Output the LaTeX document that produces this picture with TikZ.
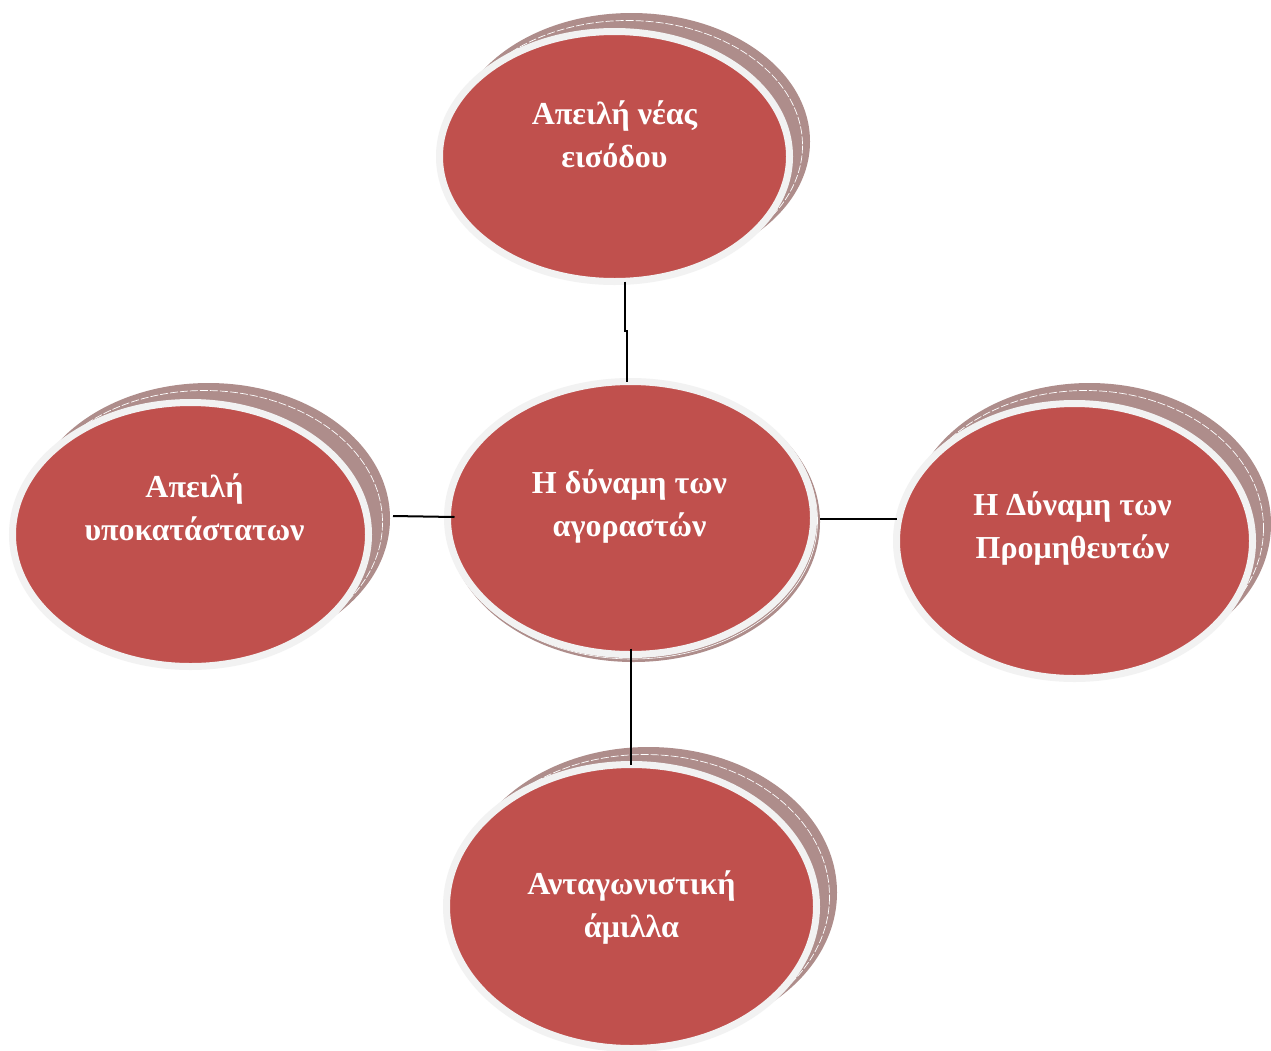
\documentclass[tikz,border=0pt]{standalone}
\usepackage{fontspec}
\setmainfont{Liberation Serif}
\usetikzlibrary{shapes.geometric,calc}

\definecolor{discred}{HTML}{C0504D}
\definecolor{discring}{HTML}{F2F2F2}
\definecolor{discshade}{HTML}{AE8D8B}

\tikzset{
  disc/.style={ellipse, fill=discred, draw=discring, line width=7pt,
               inner sep=0pt, outer sep=0pt},
  shade/.style={fill=discshade},
  shadeline/.style={fill=discshade, draw=white, line width=0.7pt,
                    dash pattern=on 8pt off 2pt},
  label/.style={text=white, font=\bfseries\fontsize{32}{43}\selectfont,
                align=center, anchor=base, inner sep=0pt},
  conn/.style={draw=black, line width=2pt},
}

\begin{document}
\begin{tikzpicture}[x=1pt, y=-1pt]
  \useasboundingbox[fill=white] (0,0) rectangle (1271,1050);

  % stacked back layers of the outer discs
  \fill[shade] (631.5,141.5) ellipse [x radius=178.5, y radius=128.5];
  \filldraw[shadeline] (627.5,145.5) ellipse [x radius=175, y radius=125];
  \fill[shade] (208.5,518.5) ellipse [x radius=181.5, y radius=135.5];
  \filldraw[shadeline] (204.5,522.5) ellipse [x radius=178, y radius=132];
  \fill[shade] (1089.5,524) ellipse [x radius=181.5, y radius=141];
  \filldraw[shadeline] (1085.5,528) ellipse [x radius=178, y radius=137.5];
  \fill[shade] (648.5,892.5) ellipse [x radius=188.5, y radius=145.5];
  \filldraw[shadeline] (644.5,896.5) ellipse [x radius=185, y radius=142];
  % thin rim under the central disc
  \fill[shade] (633.5,522) ellipse [x radius=186.5, y radius=140];
  \draw[white, line width=0.6pt] (632.5,520.5) ellipse [x radius=185, y radius=138.5];

  % discs
  \node[disc, minimum width=350pt, minimum height=250pt] (entry) at (614.5,156.5) {};
  \node[disc, minimum width=366pt, minimum height=273pt] (buyers) at (630.5,518) {};
  \node[disc, minimum width=356pt, minimum height=264pt] (subst) at (190.5,534.5) {};
  \node[disc, minimum width=356pt, minimum height=275pt] (suppl) at (1074.5,541) {};
  \node[disc, minimum width=370pt, minimum height=284pt] (rivalry) at (631.5,906.5) {};

  % labels (anchored at the baseline of the second line)
  \node[label] (entryT) at (614.5,167) {Απειλή νέας\\εισόδου};
  \node[label] (buyersT) at (629.5,536) {Η δύναμη των\\αγοραστών};
  \node[label] (substT) at (194.5,540) {Απειλή\\υποκατάστατων};
  \node[label] (supplT) at (1072.5,558) {Η Δύναμη των\\Προμηθευτών};
  \node[label] (rivalryT) at (631.5,937) {Ανταγωνιστική\\άμιλλα};

  % connectors
  \coordinate (e1) at ($(entry.south)+(10.5,0)$);
  \coordinate (b1) at ($(buyers.north)+(-4,0)$);
  \draw[conn] (e1) -- ++(0,49) -| (b1);
  \coordinate (s1) at (393,516);
  \coordinate (b2) at ($(buyers.west)+(7,-1)$);
  \draw[conn] (s1) -- (b2);
  \coordinate (b3) at (820,519);
  \draw[conn] (b3) -- (suppl.west |- b3);
  \coordinate (b4) at ($(buyers.south)+(0,-6)$);
  \draw[conn] (b4) -- (b4 |- rivalry.north);
\end{tikzpicture}
\end{document}
